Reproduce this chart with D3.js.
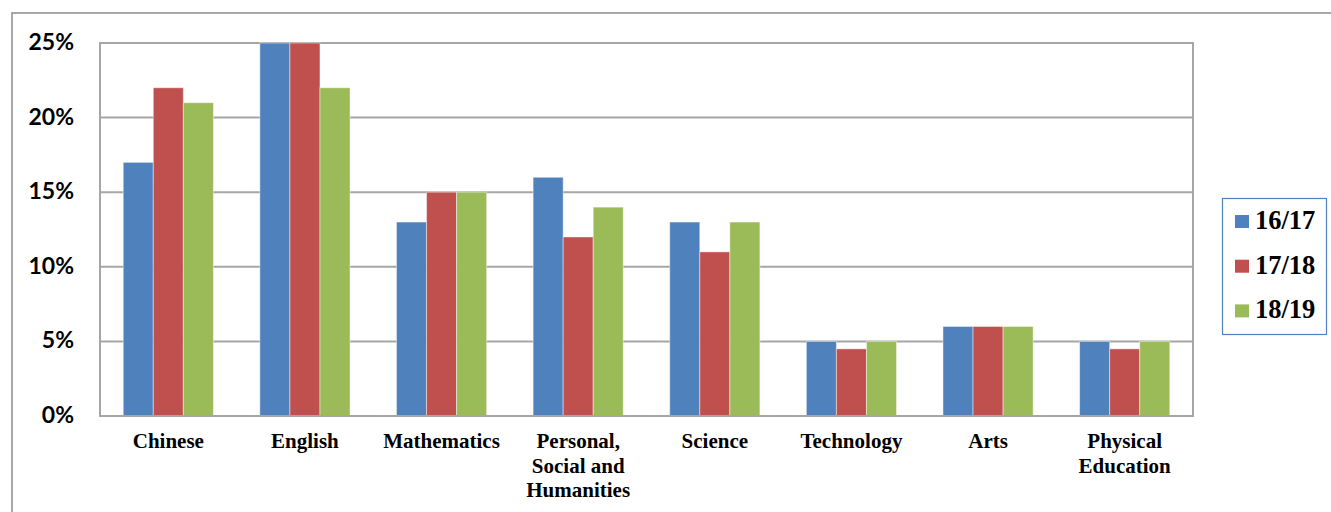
<!DOCTYPE html>
<html>
<head>
<meta charset="utf-8">
<script src="https://cdn.jsdelivr.net/npm/d3@7"></script>
<style>
  html, body { margin: 0; padding: 0; background: #fff; }
  svg { display: block; }
</style>
</head>
<body>
<svg id="chart" width="1331" height="512"></svg>
<script>
const categories = ["Chinese", "English", "Mathematics", "Personal, Social and Humanities", "Science", "Technology", "Arts", "Physical Education"];
const categoryLabels = [["Chinese"], ["English"], ["Mathematics"], ["Personal,", "Social and", "Humanities"], ["Science"], ["Technology"], ["Arts"], ["Physical", "Education"]];
const seriesNames = ["16/17", "17/18", "18/19"];
const values1617 = [17, 25, 13, 16, 13, 5, 6, 5];
const values1718 = [22, 25, 15, 12, 11, 4.5, 6, 4.5];
const values1819 = [21, 22, 15, 14, 13, 5, 6, 5];
const yTicks = [0, 5, 10, 15, 20, 25];
const colors = ["#4F81BD", "#C0504D", "#9BBB59"];

const seriesValues = [values1617, values1718, values1819];
const svg = d3.select("#chart");

// outer chart border
svg.append("rect")
  .attr("x", 12).attr("y", 13).attr("width", 1400).attr("height", 600)
  .attr("fill", "none").attr("stroke", "#8c8c8c").attr("stroke-width", 1.5);

const plot = { left: 100, top: 43, right: 1193, bottom: 416 };

const x0 = d3.scaleBand().domain(categories).range([plot.left, plot.right])
  .paddingInner(0.34).paddingOuter(0.17);
const x1 = d3.scaleBand().domain(seriesNames).range([0, x0.bandwidth()]);
const y = d3.scaleLinear().domain([0, 25]).range([plot.bottom, plot.top]);

// gridlines
svg.append("g").selectAll("line").data(yTicks).join("line")
  .attr("x1", plot.left).attr("x2", plot.right)
  .attr("y1", d => y(d)).attr("y2", d => y(d))
  .attr("stroke", "#a6a6a6").attr("stroke-width", 2);

// plot area border
svg.append("rect")
  .attr("x", plot.left).attr("y", plot.top)
  .attr("width", plot.right - plot.left).attr("height", plot.bottom - plot.top)
  .attr("fill", "none").attr("stroke", "#a6a6a6").attr("stroke-width", 2);

// bars
const groups = svg.append("g").selectAll("g").data(categories).join("g")
  .attr("transform", d => `translate(${x0(d)},0)`);
groups.selectAll("rect")
  .data((c, i) => seriesNames.map((s, j) => ({ s, j, v: seriesValues[j][i] })))
  .join("rect")
  .attr("x", d => x1(d.s))
  .attr("width", x1.bandwidth())
  .attr("y", d => y(d.v))
  .attr("height", d => y(0) - y(d.v))
  .attr("fill", d => colors[d.j])
  .attr("stroke", "rgba(255,255,255,0.45)")
  .attr("stroke-width", 1);

// redraw axis baseline on top
svg.append("line")
  .attr("x1", plot.left).attr("x2", plot.right)
  .attr("y1", plot.bottom).attr("y2", plot.bottom)
  .attr("stroke", "#a6a6a6").attr("stroke-width", 2);

// y axis labels
const yAxis = d3.axisLeft(y).tickValues(yTicks).tickFormat(d => d + "%").tickSize(0).tickPadding(0);
const yg = svg.append("g").attr("transform", `translate(74,0)`).call(yAxis);
yg.select(".domain").remove();
yg.selectAll("text")
  .attr("font-family", "Lato, 'Open Sans', sans-serif")
  .attr("font-weight", "bold")
  .attr("font-size", "23px")
  .attr("fill", "#000")
  .attr("dy", "0.28em");

// x axis labels
const xl = svg.append("g").selectAll("text").data(categories).join("text")
  .attr("x", d => x0(d) + x0.bandwidth() / 2)
  .attr("y", 448)
  .attr("text-anchor", "middle")
  .attr("font-family", "'Liberation Serif', 'Times New Roman', serif")
  .attr("font-weight", "bold")
  .attr("font-size", "21px")
  .attr("fill", "#000");
xl.each(function(d, i) {
  const t = d3.select(this);
  categoryLabels[i].forEach((line, k) => {
    t.append("tspan").attr("x", x0(d) + x0.bandwidth() / 2).attr("dy", k === 0 ? 0 : 24.5).text(line);
  });
});

// legend
const legend = svg.append("g");
legend.append("rect")
  .attr("x", 1222.5).attr("y", 198.5).attr("width", 104).attr("height", 136)
  .attr("fill", "#fff").attr("stroke", "#4F81BD").attr("stroke-width", 1.2);
const li = legend.selectAll("g").data(seriesNames).join("g")
  .attr("transform", (d, i) => `translate(1235, ${215 + i * 44.7})`);
li.append("rect").attr("width", 14).attr("height", 13).attr("fill", (d, i) => colors[i]);
li.append("text")
  .attr("x", 20).attr("y", 14)
  .attr("font-family", "'Liberation Serif', 'Times New Roman', serif")
  .attr("font-weight", "bold")
  .attr("font-size", "26.5px")
  .attr("fill", "#000")
  .text(d => d);
</script>
</body>
</html>
